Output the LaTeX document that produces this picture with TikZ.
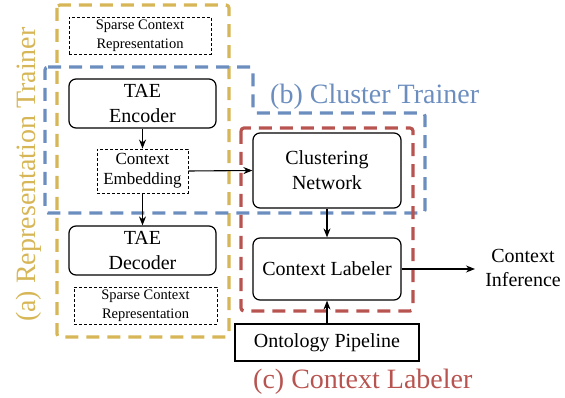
\documentclass[tikz,border=0pt]{standalone}
\usepackage{fontspec}
\setmainfont{Liberation Serif}
\usetikzlibrary{arrows.meta}
\definecolor{goldline}{HTML}{D6B656}
\definecolor{blueline}{HTML}{6C8EBF}
\definecolor{redline}{HTML}{B85450}
\tikzset{
  block/.style={draw, line width=1.2pt, rounded corners=7pt, inner sep=0pt, align=center,
    font=\fontsize{20}{25}\selectfont},
  plainblock/.style={draw, line width=1.2pt, inner sep=0pt, align=center,
    font=\fontsize{20}{25}\selectfont},
  databox/.style={draw, line width=0.9pt, dash pattern=on 3pt off 2pt, inner sep=0pt, align=center},
  group/.style={line width=3.2pt, dash pattern=on 13pt off 8pt, rounded corners=3pt},
  flow/.style={line width=1.1pt, -{Stealth[length=9pt,width=7pt]}},
  grouplabel/.style={font=\fontsize{28}{30}\selectfont, inner sep=0pt},
}
\begin{document}
\begin{tikzpicture}[x=1pt, y=-1pt]
\useasboundingbox (0,0) rectangle (565,398);

% stage frames
\draw[group, goldline] (57,5) rectangle (229,337);
\draw[group, blueline] (45,67) -- (253,67) -- (253,113) -- (425,113) -- (425,213) -- (45,213) -- cycle;
\draw[group, redline] (241,128) rectangle (413,311);

% representation trainer
\node[databox, minimum width=142pt, minimum height=37pt, font=\fontsize{14.5}{19}\selectfont]
  (sparsein) at (140,35.5) {Sparse Context\\Representation};
\node[block, minimum width=147pt, minimum height=49pt] (enc) at (142.5,103.5) {TAE\\Encoder};
\node[databox, minimum width=91pt, minimum height=44pt, font=\fontsize{17}{20}\selectfont]
  (emb) at (142.5,171) {Context\\Embedding};
\node[block, minimum width=147pt, minimum height=49pt] (dec) at (142.5,250.5) {TAE\\Decoder};
\node[databox, minimum width=143pt, minimum height=37pt, font=\fontsize{14.5}{19}\selectfont]
  (sparseout) at (145.5,305.5) {Sparse Context\\Representation};

% cluster trainer and labeler
\node[block, minimum width=148pt, minimum height=75pt] (clu) at (327,170.5) {Clustering\\Network};
\node[block, minimum width=148pt, minimum height=62pt] (lab) at (327,269) {Context Labeler};
\node[plainblock, minimum width=184pt, minimum height=37pt] (onto) at (327,342.5) {Ontology Pipeline};
\node[align=center, inner sep=0pt, font=\fontsize{20}{24}\selectfont] (inf) at (523,268) {Context\\Inference};
\coordinate (infin) at (475,269);

% connectors
\draw[flow] (enc) -- (emb);
\draw[flow] (emb) -- (dec);
\draw[flow] (emb.east) -- (clu.west);
\draw[flow] (clu) -- (lab);
\draw[flow] (onto) -- (lab);
\draw[flow] (lab.east) -- (infin);

% stage titles
\node[grouplabel, text=goldline, rotate=90, anchor=base west] (ta) at (35,322) {(a) Representation Trainer};
\node[grouplabel, text=blueline, anchor=base west] (tb) at (270,104) {(b) Cluster Trainer};
\node[grouplabel, text=redline, anchor=base west] (tc) at (253,388) {(c) Context Labeler};
\end{tikzpicture}
\end{document}
